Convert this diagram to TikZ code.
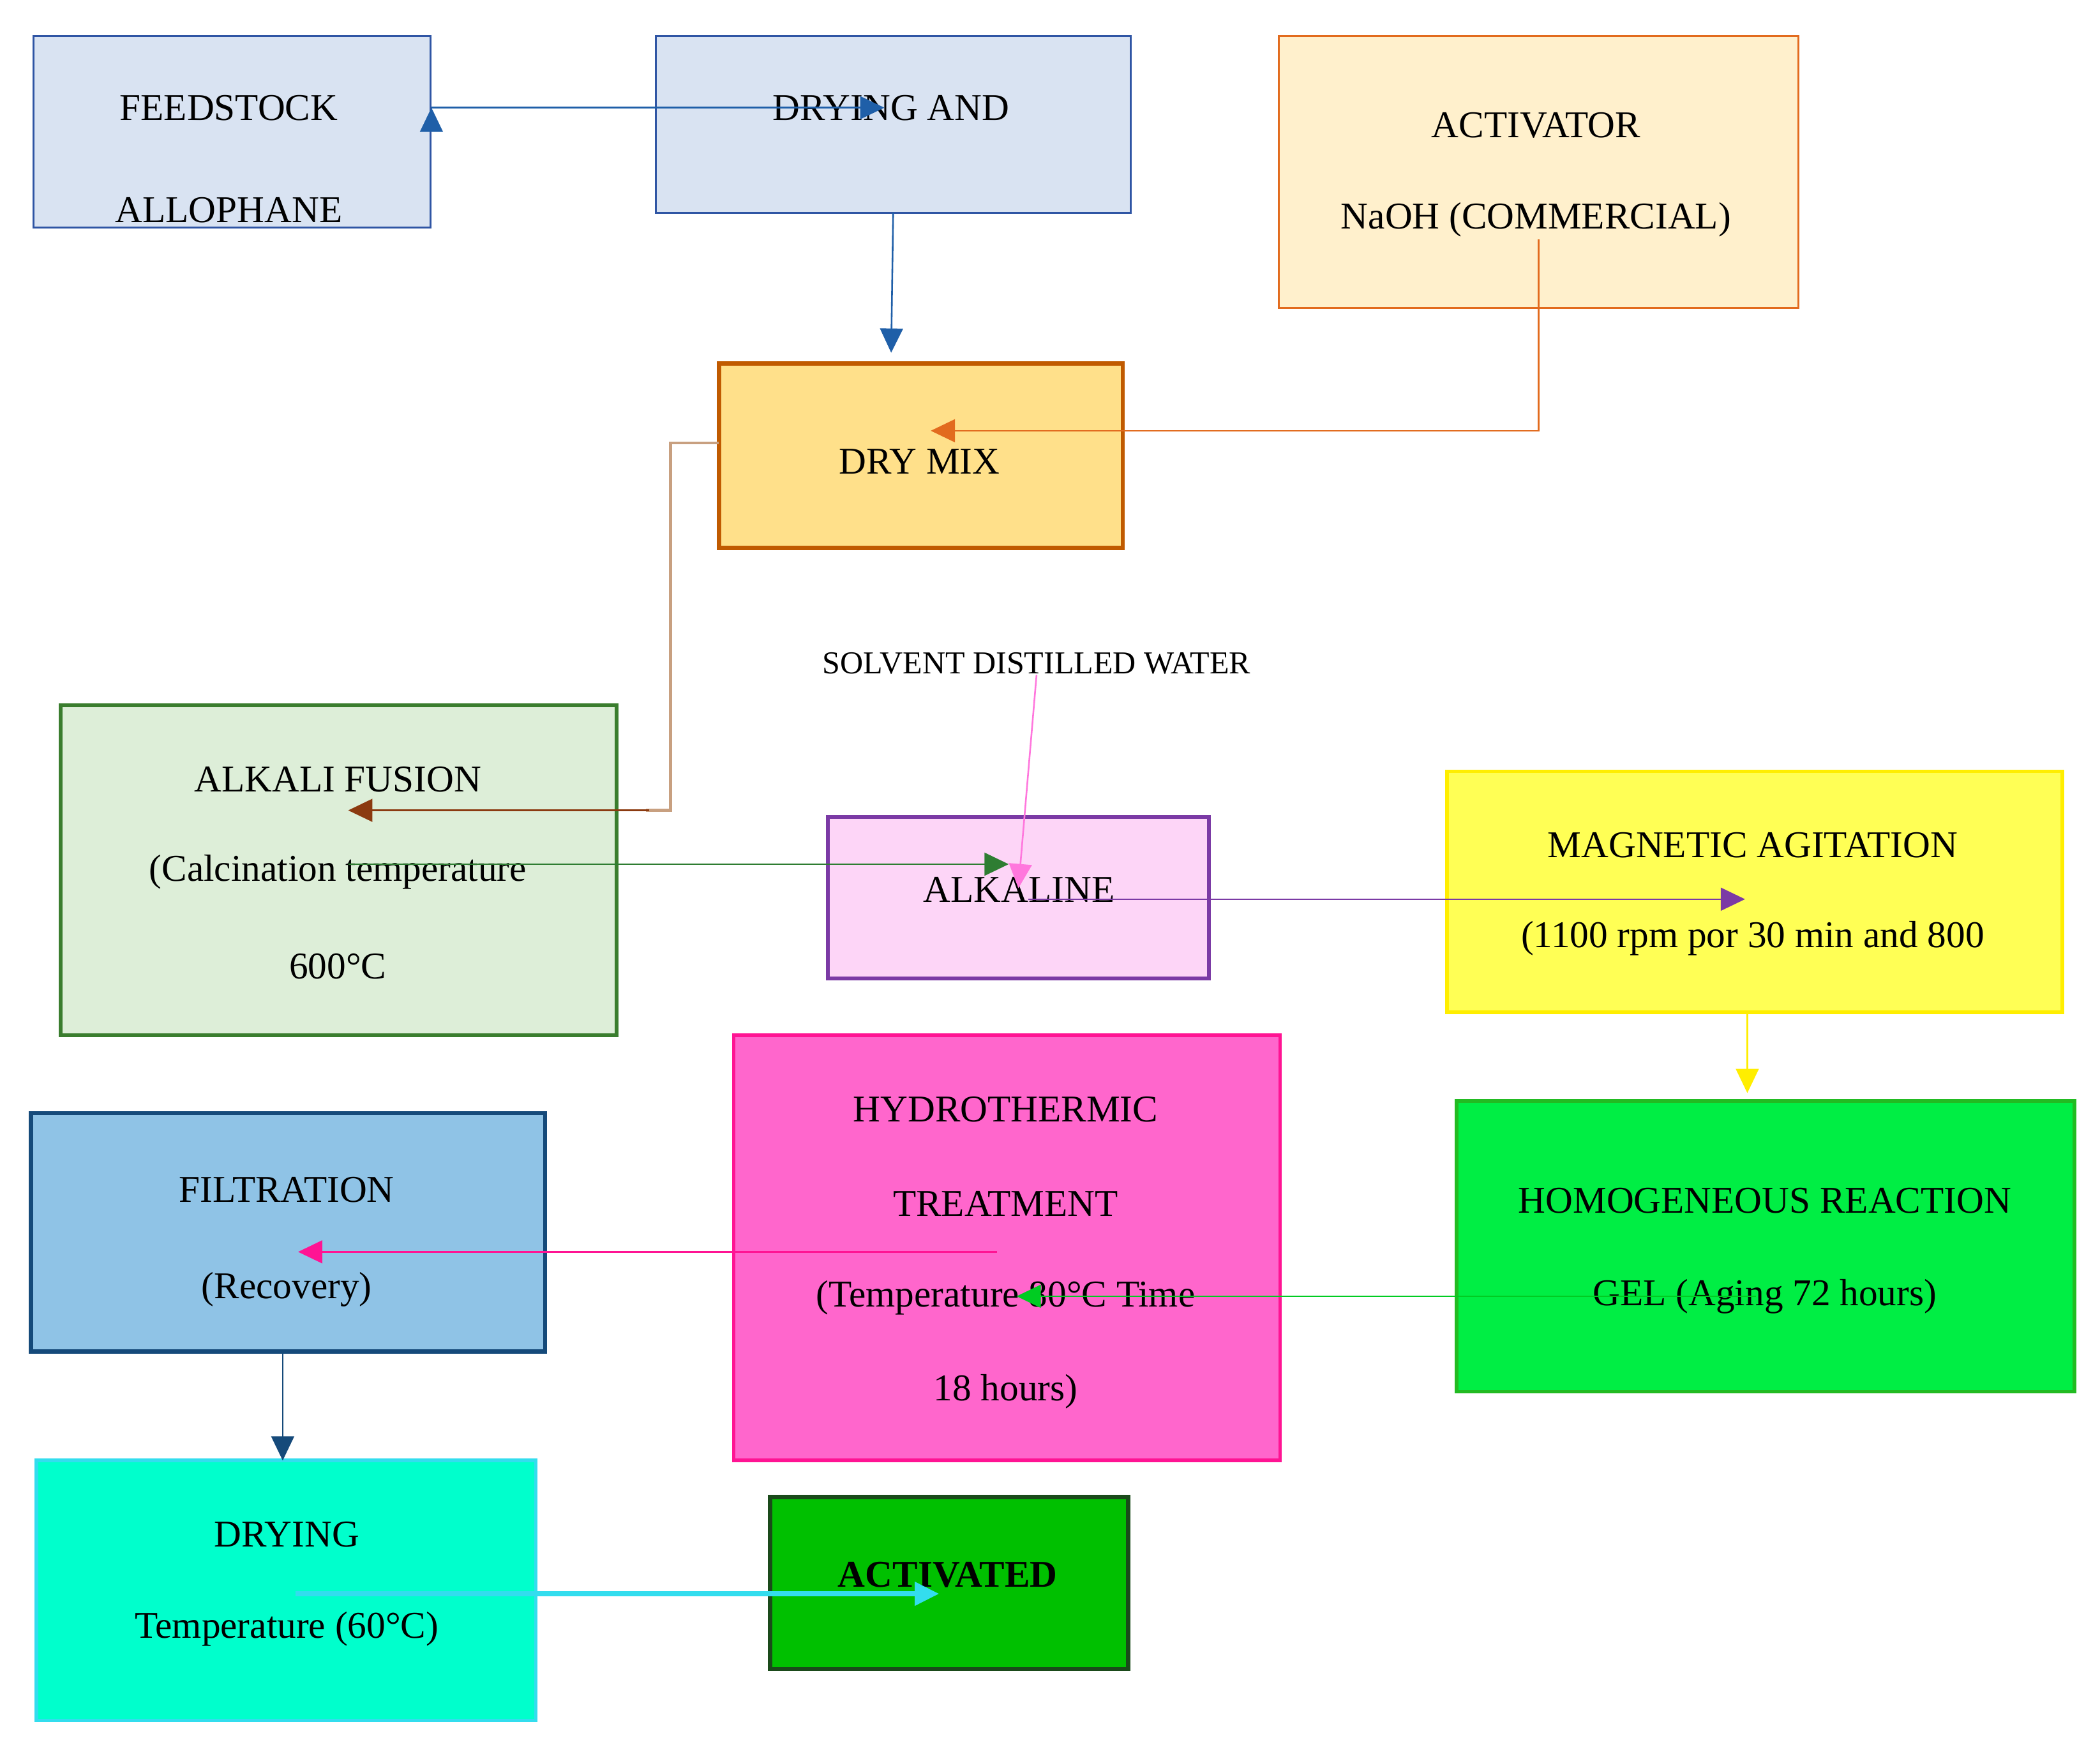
\documentclass[tikz,border=0pt]{standalone}
\usepackage{fontspec}
\setmainfont{Liberation Serif}
\usetikzlibrary{arrows.meta}
\definecolor{cBlueF}{HTML}{D9E3F2}\definecolor{cBlueB}{HTML}{2F55A4}
\definecolor{cOrF}{HTML}{FFF0CC}\definecolor{cOrB}{HTML}{E26B1E}
\definecolor{cDmF}{HTML}{FFE08A}\definecolor{cDmB}{HTML}{C05A00}
\definecolor{cAfF}{HTML}{DDEED8}\definecolor{cAfB}{HTML}{3A7D2E}
\definecolor{cAlF}{HTML}{FDD5F7}\definecolor{cAlB}{HTML}{7B3AA5}
\definecolor{cMaF}{HTML}{FFFF55}\definecolor{cMaB}{HTML}{FFEE00}
\definecolor{cHoF}{HTML}{00EE44}\definecolor{cHoB}{HTML}{22BB22}
\definecolor{cHyF}{HTML}{FF66CC}\definecolor{cHyB}{HTML}{FF1493}
\definecolor{cFiF}{HTML}{8FC3E6}\definecolor{cFiB}{HTML}{154A7A}
\definecolor{cDrF}{HTML}{00FFCC}\definecolor{cDrB}{HTML}{33DDEE}
\definecolor{cAcF}{HTML}{00C000}\definecolor{cAcB}{HTML}{1A4A1A}
\definecolor{cArB}{HTML}{1F5FA8}\definecolor{cTan}{HTML}{C8A080}\definecolor{cBrown}{HTML}{8B3A10}
\definecolor{cPink}{HTML}{FF77DD}\definecolor{cArG}{HTML}{2E7D32}
\definecolor{cArGr}{HTML}{00CC22}
\begin{document}
\begin{tikzpicture}[x=0.02cm,y=-0.02cm,
 txt/.style={font=\fontsize{16}{18}\selectfont,inner sep=0},
 arr/.style={-{Triangle[length=0.36cm,width=0.34cm]},line width=0.7pt}]
\useasboundingbox[fill=white] (0,0) rectangle (1560,1296);
\newcommand\bx[6]{\draw[fill=#2,draw=#3,line width=#4] (#5) rectangle (#6);}
% boxes
\draw[fill=cBlueF,draw=cBlueB,line width=0.8pt] (25,27) rectangle (320,169) node[pos=.5](feed){};
\draw[fill=cBlueF,draw=cBlueB,line width=0.8pt] (487,27) rectangle (840,158) node[pos=.5](dryand){};
\draw[fill=cOrF,draw=cOrB,line width=0.8pt] (950,27) rectangle (1336,229) node[pos=.5](act){};
\draw[fill=cDmF,draw=cDmB,line width=1.8pt] (534,270) rectangle (834,407) node[pos=.5](drymix){};
\draw[fill=cAfF,draw=cAfB,line width=1.5pt] (45,524) rectangle (458,769) node[pos=.5](fusion){};
\draw[fill=cAlF,draw=cAlB,line width=1.5pt] (615,607) rectangle (898,727) node[pos=.5](alk){};
\draw[fill=cMaF,draw=cMaB,line width=1.5pt] (1075,573) rectangle (1532,752) node[pos=.5](mag){};
\draw[fill=cHoF,draw=cHoB,line width=1.5pt] (1082,818) rectangle (1541,1034) node[pos=.5](homo){};
\draw[fill=cHyF,draw=cHyB,line width=1.5pt] (545,769) rectangle (951,1085) node[pos=.5](hydro){};
\draw[fill=cFiF,draw=cFiB,line width=1.8pt] (23,827) rectangle (405,1004) node[pos=.5](filt){};
\draw[fill=cDrF,draw=cDrB,line width=1.5pt] (27,1085) rectangle (398,1278) node[pos=.5](dry){};
\draw[fill=cAcF,draw=cAcB,line width=1.8pt] (572,1112) rectangle (838,1240) node[pos=.5](activ){};
% texts
\node[txt] (t1) at (170,80) {FEEDSTOCK};
\begin{scope}\clip (25,27) rectangle (320,168);
\node[txt] (t1b) at (170,156) {ALLOPHANE};\end{scope}
\node[txt] at (662,80) {DRYING AND};
\node[txt] at (1141,93) {ACTIVATOR};
\node[txt] at (1141,163) {NaOH (COMMERCIAL)};
\node[txt] at (683,343) {DRY MIX};
\node[txt,font=\fontsize{13.5}{15}\selectfont] (solv) at (770,493) {SOLVENT DISTILLED WATER};
\node[txt] at (251,579) {ALKALI FUSION};
\node[txt] at (251,648) {(Calcination temperature};
\node[txt] at (251,718) {600°C};
\node[txt] at (757,661) {ALKALINE};
\node[txt] at (1302,628) {MAGNETIC AGITATION};
\node[txt] at (1302,697) {(1100 rpm por 30 min and 800};
\node[txt] at (1311,892) {HOMOGENEOUS REACTION};
\node[txt] at (1311,963) {GEL (Aging 72 hours)};
\node[txt] at (747,824) {HYDROTHERMIC};
\node[txt] at (747,894) {TREATMENT};
\node[txt] at (747,964) {(Temperature 80°C Time};
\node[txt] at (747,1034) {18 hours)};
\node[txt] at (213,884) {FILTRATION};
\node[txt] at (213,958) {(Recovery)};
\node[txt] at (213,1140) {DRYING};
\node[txt] at (213,1210) {Temperature (60°C)};
\node[txt,font=\fontsize{16}{18}\selectfont\bfseries] at (704,1170) {ACTIVATED};
% connectors
\draw[arr,cArB] (feed.center |- 320,80) ++(148,0) coordinate(a0);
\draw[arr,cArB] (320,80) -- (dryand.west |- 0,80);
\draw[arr,cArB] (dryand.center |- 0,158) -- (662,262);
\draw[arr,cOrB] (1143,178) |- (drymix.east |- 0,320);
\draw[cTan,line width=1.2pt] (534,329) -- (498,329) -- (498,602) -- (480,602);
\draw[arr,cBrown] (482,602) -- (fusion.east |- 0,602);
\draw[arr,cPink] (solv.south) -- (alk.north);
\draw[arr,cArG] (fusion.east |- 0,642) -- (alk.west |- 0,642);
\draw[arr,cAlB] (alk.east |- 0,668) -- (mag.west |- 0,668);
\draw[arr,cMaB] (1298,752) -- (1298,812);
\draw[arr,cArGr] (homo.west |- 0,963) -- (hydro.east |- 0,963);
\draw[arr,cHyB] (hydro.west |- 0,930) -- (filt.east |- 0,930);
\draw[arr,cFiB] (210,1004) -- (210,1085);
\draw[arr,cDrB,line width=2pt] (dry.east |- 0,1184) -- (activ.west |- 0,1184);
\end{tikzpicture}
\end{document}
